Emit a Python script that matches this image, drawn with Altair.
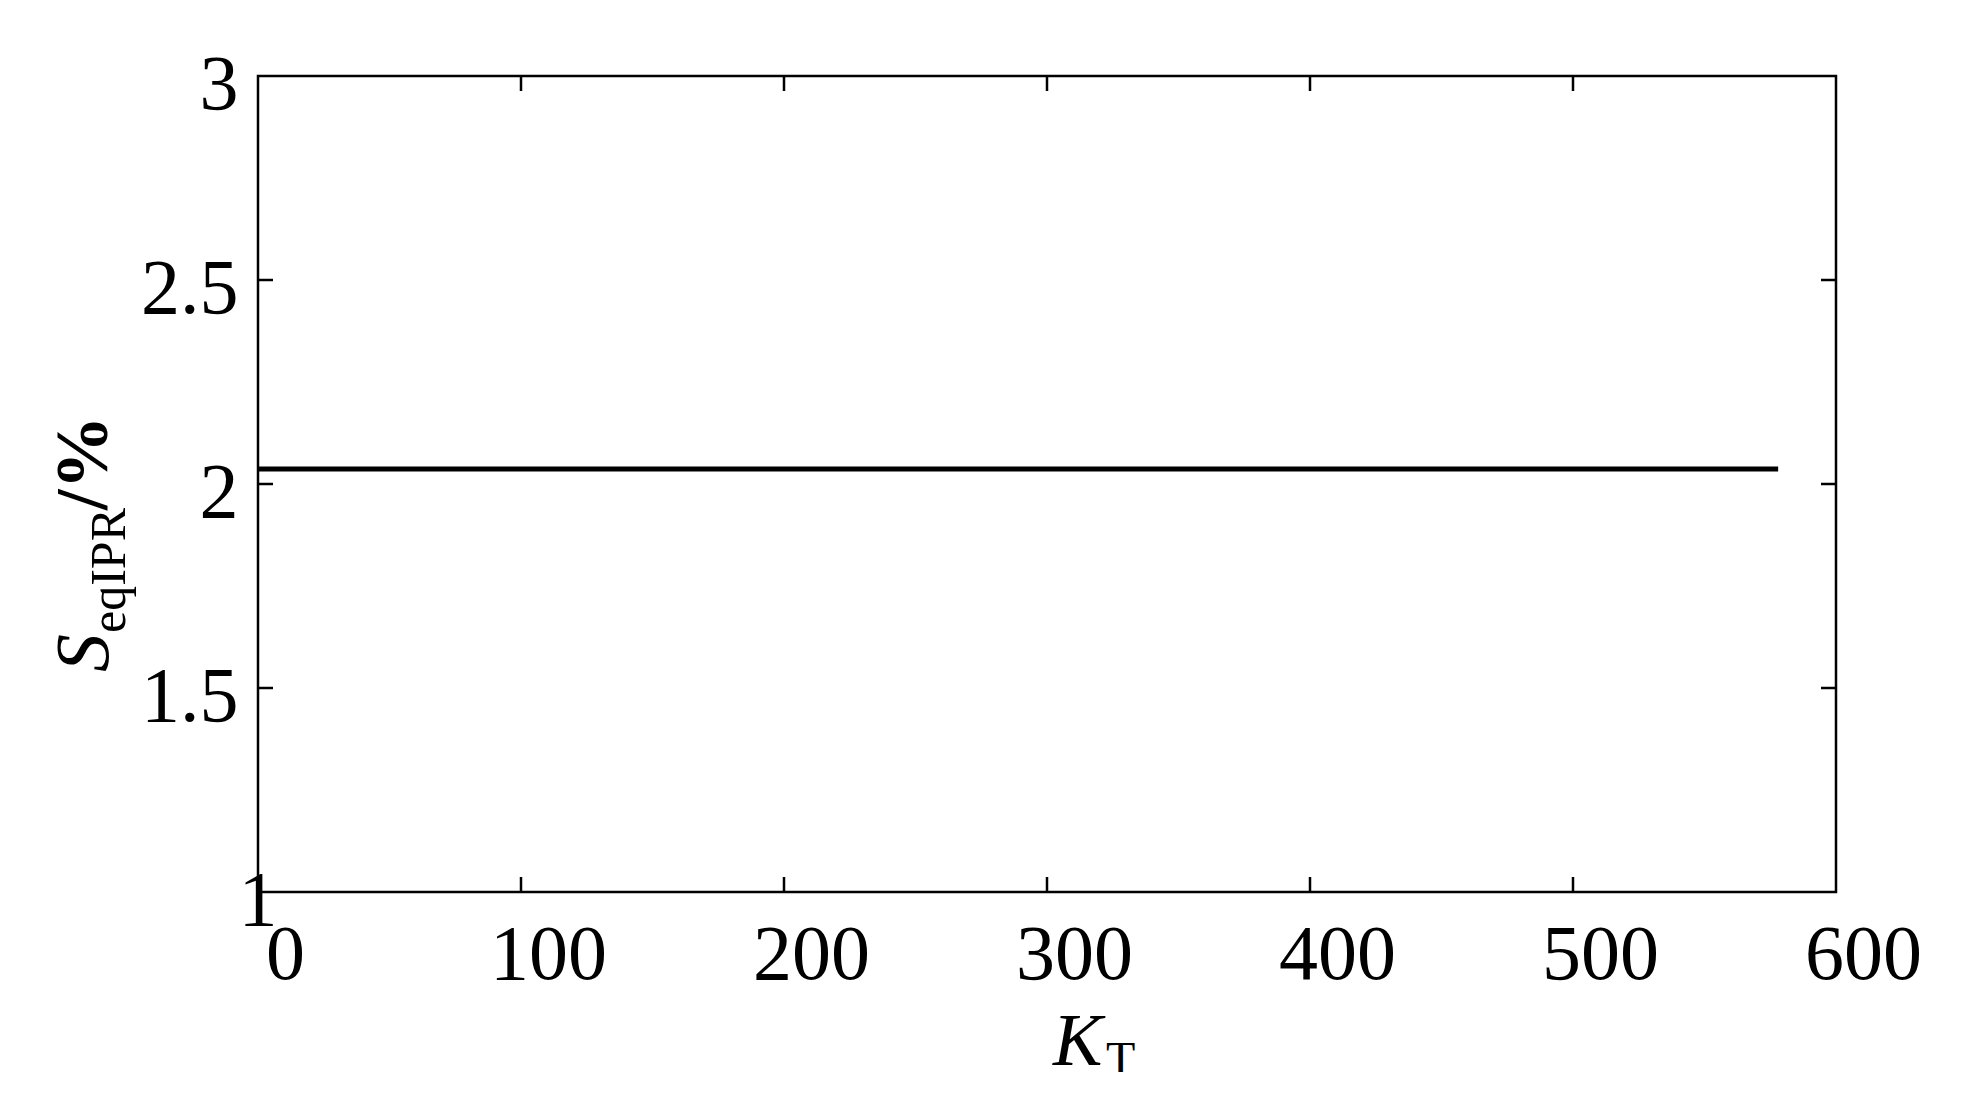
import pandas as pd
import altair as alt

# data
kt = [0, 578]
s_eq = [2.037, 2.037]

x_ticks = [100, 200, 300, 400, 500]
y_ticks = [1.5, 2.0, 2.5]

W, H = 1578, 816
X_DOMAIN = [0, 600]
Y_DOMAIN = [1, 3]
TICK_PX = 15
FONT = "Liberation Serif"

tx = TICK_PX / W * (X_DOMAIN[1] - X_DOMAIN[0])
ty = TICK_PX / H * (Y_DOMAIN[1] - Y_DOMAIN[0])

line_df = pd.DataFrame({"kt": kt, "s": s_eq})

xs = alt.Scale(domain=X_DOMAIN, nice=False, zero=False)
ys = alt.Scale(domain=Y_DOMAIN, nice=False, zero=False)

x_axis = alt.Axis(
    values=[0, 100, 200, 300, 400, 500, 600], format="d", title=None,
    domain=False, ticks=False, tickSize=0, grid=False,
    labelFont=FONT, labelFontSize=78, labelColor="black",
    labelPadding=24, labelOffset=27, labelFlush=False, labelOverlap=False,
)
y_axis = alt.Axis(
    values=[1, 1.5, 2, 2.5, 3], format="~g", title=None,
    domain=False, ticks=False, tickSize=0, grid=False,
    labelFont=FONT, labelFontSize=78, labelColor="black",
    labelPadding=20, labelOffset=9, labelFlush=False, labelOverlap=False,
    labelAlign={"condition": {"test": "datum.value === 1", "value": "left"}, "value": "right"},
)

line = alt.Chart(line_df).mark_line(color="black", strokeWidth=5).encode(
    x=alt.X("kt:Q", scale=xs, axis=x_axis),
    y=alt.Y("s:Q", scale=ys, axis=y_axis),
)

# inward ticks on all four sides
xt = pd.DataFrame({"v": x_ticks})
yt = pd.DataFrame({"v": y_ticks})
tick_style = dict(color="black", strokeWidth=2.5)

bottom = alt.Chart(xt).mark_rule(**tick_style).encode(
    x=alt.X("v:Q", scale=xs), y=alt.datum(Y_DOMAIN[0]), y2=alt.datum(Y_DOMAIN[0] + ty))
top = alt.Chart(xt).mark_rule(**tick_style).encode(
    x=alt.X("v:Q", scale=xs), y=alt.datum(Y_DOMAIN[1]), y2=alt.datum(Y_DOMAIN[1] - ty))
left = alt.Chart(yt).mark_rule(**tick_style).encode(
    y=alt.Y("v:Q", scale=ys), x=alt.datum(X_DOMAIN[0]), x2=alt.datum(X_DOMAIN[0] + tx))
right = alt.Chart(yt).mark_rule(**tick_style).encode(
    y=alt.Y("v:Q", scale=ys), x=alt.datum(X_DOMAIN[1]), x2=alt.datum(X_DOMAIN[1] - tx))

# axis titles built from pieces (italic symbol + roman subscript)
def label(text, x, y, size, style="normal", weight="normal", angle=0):
    return alt.Chart(pd.DataFrame({"t": [text]})).mark_text(
        font=FONT, fontSize=size, fontStyle=style, fontWeight=weight,
        align="left", baseline="alphabetic", angle=angle, color="black",
    ).encode(text="t:N", x=alt.value(x), y=alt.value(y))

titles = [
    label("K", 795, 989, 74, style="italic"),
    label("T", 848, 999, 48),
    label("S", -150, 596, 76, style="italic", angle=270),
    label("eqIPR", -133, 557, 50, angle=270),
    label("/%", -151, 434, 74, weight="bold", angle=270),
]

chart = alt.layer(line, bottom, top, left, right, *titles).properties(
    width=W, height=H,
    autosize=alt.AutoSizeParams(type="none"),
    padding={"left": 250, "top": 68, "right": 130, "bottom": 180},
    background="white",
).configure_view(stroke="black", strokeWidth=2.5)

chart.save("out.html", embed_options={"renderer": "svg", "actions": False})
